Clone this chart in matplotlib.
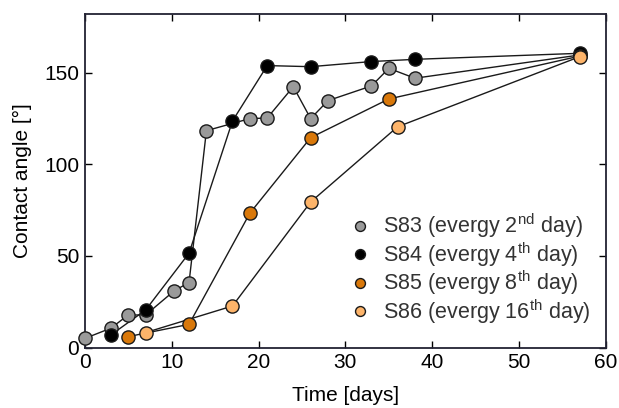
import matplotlib
matplotlib.use("Agg")
import matplotlib.pyplot as plt

plt.rcParams['font.family'] = ['Liberation Sans', 'DejaVu Sans']
plt.rcParams['mathtext.fontset'] = 'custom'
plt.rcParams['mathtext.rm'] = 'Liberation Sans'
plt.rcParams['mathtext.it'] = 'Liberation Sans'

s83_days = [0, 3, 5, 7, 10.3, 12, 14, 19, 21, 24, 26, 28, 33, 35, 38, 57]
s83_vals = [5, 10.6, 17.8, 17.8, 31, 35.5, 118.3, 124.9, 125.2, 142.3, 124.9, 134.7, 142.7, 152.3, 146.9, 159.6]
s84_days = [3, 7, 12, 17, 21, 26, 33, 38, 57]
s84_vals = [6.9, 20.5, 51.5, 123.6, 153.8, 153.2, 156, 157.2, 160.5]
s85_days = [5, 12, 19, 26, 35, 57]
s85_vals = [6, 12.7, 73.3, 114.5, 135.6, 159]
s86_days = [7, 17, 26, 36, 57]
s86_vals = [8.2, 22.7, 79.4, 120.4, 158.7]

labels = [r'S83 (evergy 2$^{\mathrm{nd}}$ day)',
          r'S84 (evergy 4$^{\mathrm{th}}$ day)',
          r'S85 (evergy 8$^{\mathrm{th}}$ day)',
          r'S86 (evergy 16$^{\mathrm{th}}$ day)']
colors = ['#9a9a9a', '#000000', '#d9780a', '#fdb46a']
series = [(s83_days, s83_vals), (s84_days, s84_vals), (s85_days, s85_vals), (s86_days, s86_vals)]

fig = plt.figure(figsize=(6.19, 4.08), dpi=100)
ax = fig.add_axes([0.137, 0.148, 0.842, 0.818])

for (d, v), c, lab in zip(series, colors, labels):
    ax.plot(d, v, '-', color='#1a1a1a', lw=1.0, zorder=2, clip_on=False)
    ax.plot(d, v, 'o', ms=9.5, mfc=c, mec='#1a1a1a', mew=1.0, lw=0, label=lab, zorder=3, clip_on=False)

ax.set_xlim(0, 60)
ax.set_ylim(0, 182)
ax.set_xticks([0, 10, 20, 30, 40, 50, 60])
ax.set_yticks([0, 50, 100, 150])
ax.tick_params(direction='in', top=True, right=True, length=5, width=1, labelsize=15, pad=4)
for s in ax.spines.values():
    s.set_linewidth(1.3)
    s.set_color('#222233')
ax.set_xlabel('Time [days]', fontsize=15, labelpad=10)
ax.set_ylabel('Contact angle [°]', fontsize=15, labelpad=9)

leg = ax.legend(loc='lower right', frameon=False, fontsize=15.5, markerscale=0.75,
                handletextpad=0.6, labelspacing=0.0, borderaxespad=0.3, handlelength=1.0,
                bbox_to_anchor=(1.0, 0.02))
for t in leg.get_texts():
    t.set_color('#333333')

fig.savefig('out.png', dpi=100)
